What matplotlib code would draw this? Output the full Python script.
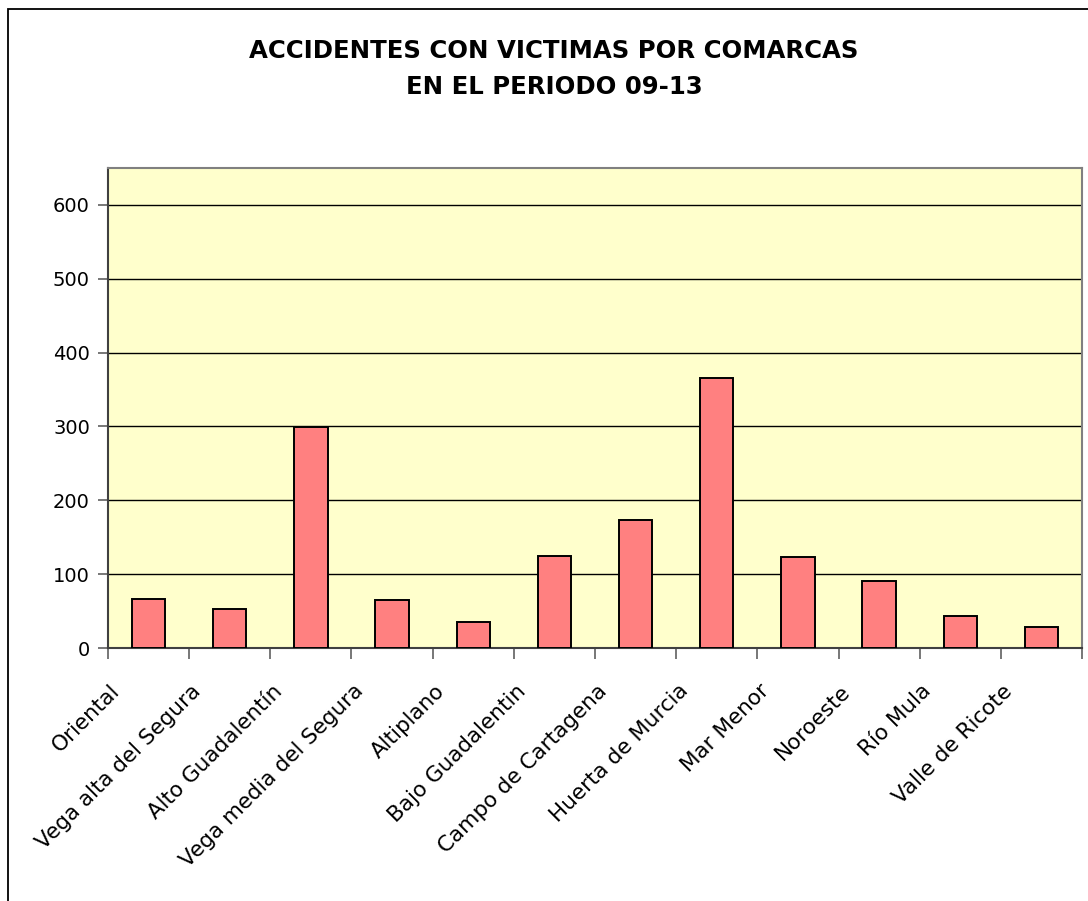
import matplotlib
matplotlib.use("Agg")
import matplotlib.pyplot as plt
import matplotlib.transforms as mtransforms
from matplotlib.patches import Rectangle
from matplotlib.ticker import FixedLocator, NullFormatter
import numpy as np

plt.rcParams['font.family'] = ['DejaVu Sans']

comarcas = ["Oriental", "Vega alta del Segura", "Alto Guadalentín",
            "Vega media del Segura", "Altiplano", "Bajo Guadalentin",
            "Campo de Cartagena", "Huerta de Murcia", "Mar Menor",
            "Noroeste", "Río Mula", "Valle de Ricote"]
accidentes = [67, 53, 299, 65, 35, 125, 173, 365, 123, 91, 43, 28]
yticks = [0, 100, 200, 300, 400, 500, 600]

W, H = 1088, 901
fig = plt.figure(figsize=(W / 100, H / 100), dpi=100)
fig.patch.set_facecolor("white")

# outer frame of the chart
fig.add_artist(Rectangle((8 / W, -0.05), 2.0, 1 - 9 / H + 0.05,
                         transform=fig.transFigure, fill=False,
                         edgecolor="black", linewidth=1.3))

left, right, top, bottom = 108, 1082, 168, 648
ax = fig.add_axes([left / W, 1 - bottom / H, (right - left) / W, (bottom - top) / H])
ax.set_facecolor("#FFFFCC")

x = np.arange(len(comarcas))
ax.bar(x, accidentes, width=0.41, color="#FF8080", edgecolor="black",
       linewidth=1.4, zorder=3)

ax.set_xlim(-0.5, len(comarcas) - 0.5)
ax.set_ylim(0, 650)
ax.set_yticks(yticks)
ax.set_yticklabels([str(v) for v in yticks], fontsize=14)
ax.yaxis.grid(True, color="black", linewidth=1.0, zorder=1)
ax.set_axisbelow(True)

# category boundaries carry the x ticks, names sit at the centres
ax.xaxis.set_major_locator(FixedLocator(np.arange(-0.5, len(comarcas), 1.0)))
ax.xaxis.set_major_formatter(NullFormatter())
ax.xaxis.set_minor_locator(FixedLocator(x))
ax.set_xticklabels(comarcas, minor=True, rotation=45, ha="right",
                   rotation_mode="anchor", fontsize=15.5)
ax.tick_params(axis="x", which="minor", length=0, pad=20)
ax.tick_params(axis="x", which="major", length=8, width=1.2, color="#606060")
ax.tick_params(axis="y", length=7, width=1.2, color="#606060", pad=6)

# slide the slanted names a little to the left of their category centre
shift = mtransforms.ScaledTranslation(-39 / 100, -5 / 100, fig.dpi_scale_trans)
for lbl in ax.get_xticklabels(minor=True):
    lbl.set_transform(lbl.get_transform() + shift)

for s in ax.spines.values():
    s.set_color("#808080")
    s.set_linewidth(1.5)
ax.spines["left"].set_color("#404040")
ax.spines["bottom"].set_color("#404040")

fig.text(554 / W, 1 - 51 / H, "ACCIDENTES CON VICTIMAS POR COMARCAS",
         ha="center", va="center", fontsize=17.6, fontweight="bold")
fig.text(554 / W, 1 - 87 / H, "EN EL PERIODO 09-13",
         ha="center", va="center", fontsize=17.6, fontweight="bold")

fig.savefig("out.png", dpi=100)
